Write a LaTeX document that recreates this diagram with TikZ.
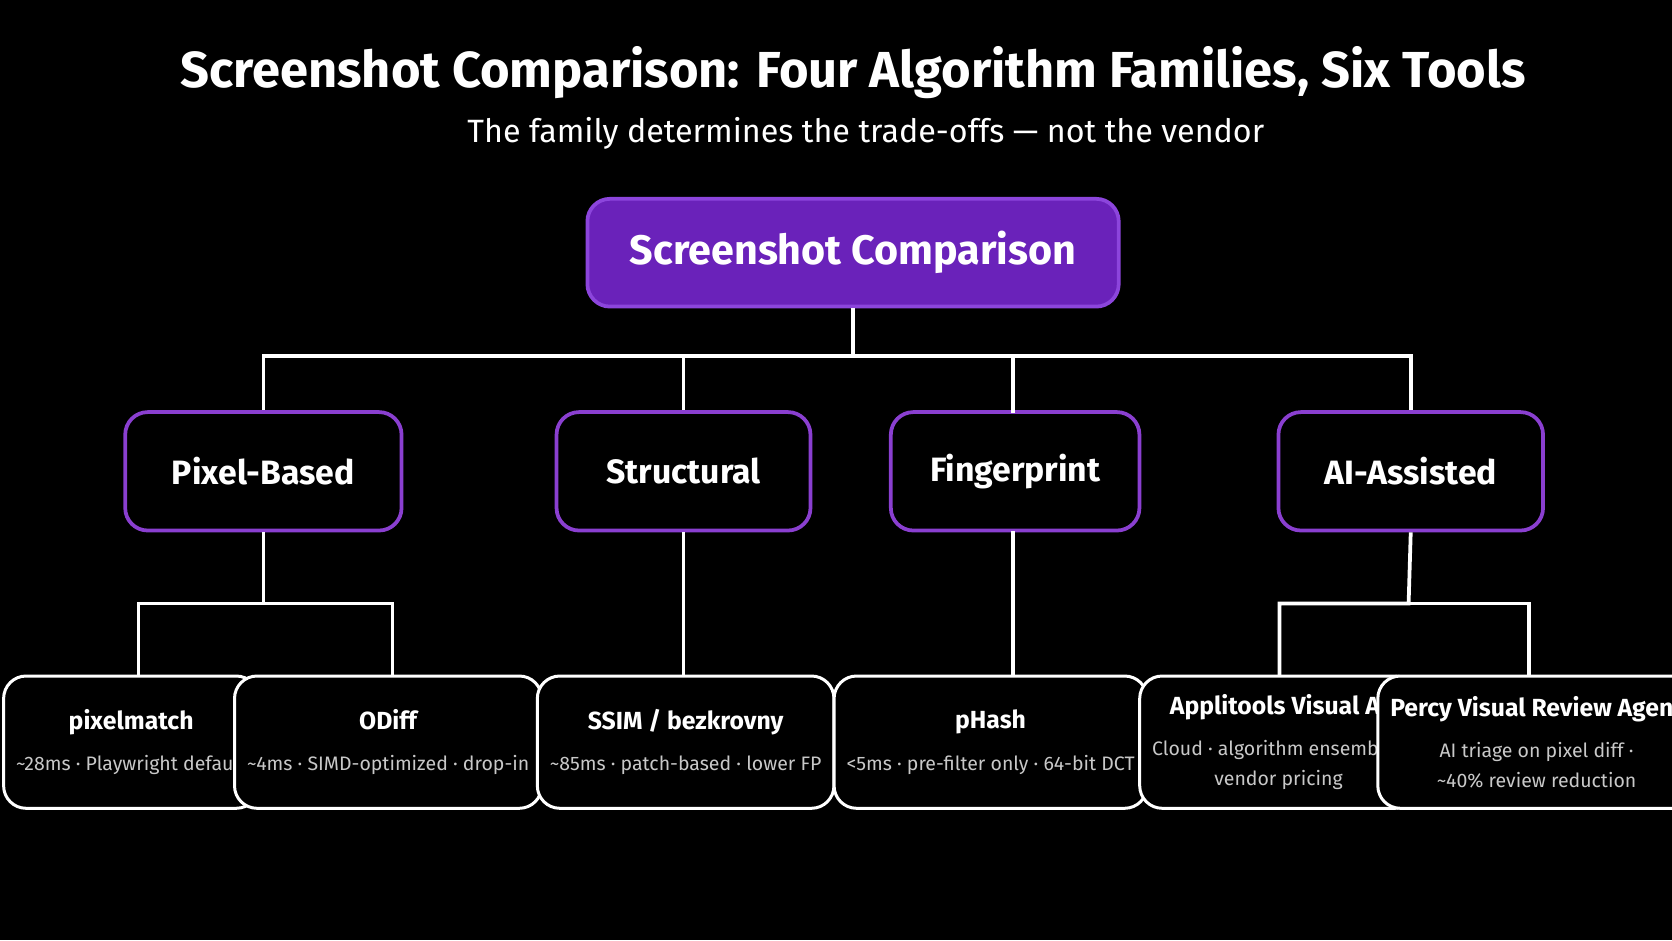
\documentclass[tikz,border=0pt]{standalone}
\usepackage{fontspec}
\setmainfont{Fira Sans}
\usetikzlibrary{positioning}
\definecolor{rootfill}{HTML}{6A22BA}
\definecolor{rootdraw}{HTML}{8C45DC}
\definecolor{catdraw}{HTML}{8A3FD0}
\definecolor{subgray}{HTML}{C8C8C8}
\tikzset{
  root/.style={draw=rootdraw, line width=1pt, fill=rootfill, rounded corners=6pt, text=white,
    font=\bfseries\fontsize{11}{13}\selectfont, minimum width=4.98cm, minimum height=1.01cm},
  family/.style={draw=catdraw, line width=1pt, fill=black, rounded corners=6pt, text=white,
    font=\bfseries\fontsize{9}{11}\selectfont, minimum height=1.11cm},
  tool/.style={draw=white, line width=0.8pt, fill=black, rounded corners=6pt, text=white,
    align=center, font=\bfseries\fontsize{6.6}{8}\selectfont, minimum height=1.24cm},
  link/.style={white, line width=1pt},
}
\newcommand{\toolinfo}[1]{{\mdseries\color{subgray}\fontsize{5.2}{7.5}\selectfont #1}}

\begin{document}
\begin{tikzpicture}[x=0.01cm, y=-0.01cm]
    \fill[black] (0,0) rectangle (1568,882);
    \useasboundingbox (0,0) rectangle (1568,882);

    % Heading
    \node[text=white, font=\bfseries\fontsize{13.5}{16}\selectfont] (title) at (800,68)
        {Screenshot Comparison: Four Algorithm Families, Six Tools};
    \node[text=white, font=\fontsize{8.6}{10}\selectfont] (subtitle) at (812,125)
        {The family determines the trade-offs — not the vendor};

    % Root
    \node[root] (root) at (800,237) {Screenshot Comparison};

    % Families
    \node[family, minimum width=2.59cm] (pixel) at (247,442) {Pixel-Based};
    \node[family, minimum width=2.38cm] (struct) at (641,442) {Structural};
    \node[family, minimum width=2.33cm] (finger) at (952,442) {Fingerprint};
    \node[family, minimum width=2.48cm] (aiass) at (1323,442) {AI-Assisted};

    % Tools
    \node[tool, minimum width=2.12cm] (pxm) at (123,696) {pixelmatch\\[3pt]\toolinfo{\textasciitilde28ms · Playwright default}};
    \node[tool, minimum width=2.27cm] (odiff) at (364,696) {ODiff\\[3pt]\toolinfo{\textasciitilde4ms · SIMD-optimized · drop-in}};
    \node[tool, minimum width=2.51cm] (ssim) at (643,696) {SSIM / bezkrovny\\[3pt]\toolinfo{\textasciitilde85ms · patch-based · lower FP}};
    \node[tool, minimum width=2.43cm] (phash) at (929,696) {pHash\\[3pt]\toolinfo{<5ms · pre-filter only · 64-bit DCT}};
    \node[tool, minimum width=2.15cm] (appli) at (1199,696) {Applitools Visual AI\\[3pt]\toolinfo{Cloud · algorithm ensemble ·}\\\toolinfo{vendor pricing}};
    \node[tool, minimum width=2.18cm] (percy) at (1441,696) {Percy Visual Review Agent\\[3pt]\toolinfo{AI triage on pixel diff ·}\\\toolinfo{\textasciitilde40\% review reduction}};

    % Junctions
    \coordinate (bus) at (800,334);
    \coordinate (pixj) at (247,566);
    \coordinate (aij) at (1321,566);

    % Links
    \draw[link] (root.south) -- (bus);
    \draw[link] (bus) -| (pixel.north);
    \draw[link] (bus) -| (struct.north);
    \draw[link] (bus) -| (950,387);
    \draw[link] (bus) -| (aiass.north);
    \draw[link] (pixel.south) -- (pixj) -| (130,634);
    \draw[link] (pixj) -| (368,634);
    \draw[link] (struct.south) -- (struct.south |- ssim.north);
    \draw[link] (950,498) -- (950,634);
    \draw[link] (aiass.south) -- (aij) -| (1200,634);
    \draw[link] (aij) -| (1434,634);
\end{tikzpicture}
\end{document}
